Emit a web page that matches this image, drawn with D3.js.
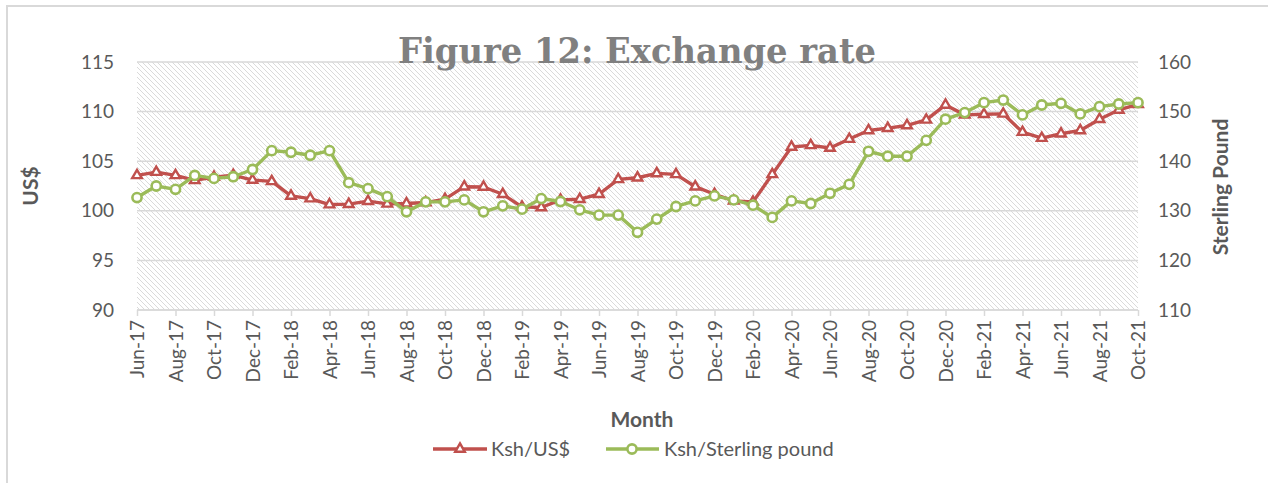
<!DOCTYPE html>
<html><head><meta charset="utf-8">
<script src="https://cdn.jsdelivr.net/npm/d3@7"></script>
<style>body{margin:0;background:#fff}svg{display:block}</style>
</head><body><svg id="c" width="1268" height="483"></svg>
<script>
const months = ["Jun-17","Jul-17","Aug-17","Sep-17","Oct-17","Nov-17","Dec-17",
"Jan-18","Feb-18","Mar-18","Apr-18","May-18","Jun-18","Jul-18","Aug-18","Sep-18","Oct-18","Nov-18","Dec-18",
"Jan-19","Feb-19","Mar-19","Apr-19","May-19","Jun-19","Jul-19","Aug-19","Sep-19","Oct-19","Nov-19","Dec-19",
"Jan-20","Feb-20","Mar-20","Apr-20","May-20","Jun-20","Jul-20","Aug-20","Sep-20","Oct-20","Nov-20","Dec-20",
"Jan-21","Feb-21","Mar-21","Apr-21","May-21","Jun-21","Jul-21","Aug-21","Sep-21","Oct-21"];
const kshUsd = [103.57,103.9,103.57,103.07,103.4,103.6,103.1,
102.97,101.5,101.23,100.63,100.67,100.97,100.7,100.73,100.83,101.17,102.43,102.4,
101.67,100.4,100.33,101.1,101.17,101.67,103.17,103.33,103.77,103.67,102.43,101.67,
101.0,100.9,103.67,106.43,106.6,106.33,107.23,108.1,108.33,108.6,109.17,110.67,
109.67,109.73,109.77,107.93,107.33,107.77,108.1,109.23,110.17,110.73];
const kshGbp = [132.67,135.0,134.33,137.13,136.53,136.87,138.33,
142.13,141.8,141.2,142.13,135.67,134.47,132.85,129.8,131.8,131.8,132.2,129.8,
131.0,130.33,132.47,131.87,130.2,129.13,129.13,125.67,128.33,130.87,132.0,133.0,
132.2,131.13,128.67,132.0,131.47,133.53,135.33,142.0,141.0,141.0,144.2,148.47,
149.8,151.8,152.33,149.33,151.33,151.67,149.53,151.0,151.53,151.8];
const leftTicks = [90,95,100,105,110,115];
const rightTicks = [110,120,130,140,150,160];
const tickLabels = months.filter((m,i)=>i%2===0);
const seriesNames = ["Ksh/US$","Ksh/Sterling pound"];
const titleText = "Figure 12: Exchange rate";

const svg = d3.select("#c");
const L=137, R=1138, T=62, B=310;
const red="#c0504d", green="#9bbb59", txt="#595959", grid="#d9d9d9";
const font="Lato, 'Open Sans', sans-serif";

// outer border
svg.append("rect").attr("x",7).attr("y",6).attr("width",1262).attr("height",490)
  .attr("fill","none").attr("stroke","#d9d9d9").attr("stroke-width",2);

const defs = svg.append("defs");
const pat = defs.append("pattern").attr("id","hatch").attr("patternUnits","userSpaceOnUse")
  .attr("width",5).attr("height",5);
pat.append("rect").attr("width",5).attr("height",5).attr("fill","#fff");
pat.append("path").attr("d","M-1,-1 L6,6 M-1,4 L1,6 M4,-1 L6,1").attr("stroke","#dadada").attr("stroke-width",1);

const x = d3.scalePoint().domain(months).range([L,R]);
const yL = d3.scaleLinear().domain([90,115]).range([B,T]);
const yR = d3.scaleLinear().domain([110,160]).range([B,T]);

svg.append("rect").attr("x",L).attr("y",T).attr("width",R-L).attr("height",B-T).attr("fill","url(#hatch)");

// gridlines
svg.append("g").selectAll("line").data(leftTicks).join("line")
  .attr("x1",L).attr("x2",R).attr("y1",d=>yL(d)).attr("y2",d=>yL(d))
  .attr("stroke",grid).attr("stroke-width",1.5);

// left axis
const gl = svg.append("g").attr("transform",`translate(${L},0)`)
  .call(d3.axisLeft(yL).tickValues(leftTicks).tickSize(0).tickPadding(23));
gl.select(".domain").remove();
gl.selectAll("text").attr("fill",txt).style("font-family",font).style("font-size","19px");

// right axis
const gr = svg.append("g").attr("transform",`translate(${R},0)`)
  .call(d3.axisRight(yR).tickValues(rightTicks).tickSize(0).tickPadding(20));
gr.select(".domain").remove();
gr.selectAll("text").attr("fill",txt).style("font-family",font).style("font-size","19px");

// bottom axis
const gb = svg.append("g").attr("transform",`translate(0,${B})`)
  .call(d3.axisBottom(x).tickValues(tickLabels).tickSize(6).tickSizeOuter(0).tickPadding(6));
gb.select(".domain").attr("stroke",grid).attr("stroke-width",1.5).attr("d",`M${L},0H${R}`);
gb.selectAll(".tick line").attr("stroke",grid).attr("stroke-width",1.5);
gb.selectAll("text").attr("fill",txt).style("font-family",font).style("font-size","19px")
  .attr("transform","rotate(-90)").attr("text-anchor","end").attr("dy","0.35em").attr("x",-10).attr("y",0);

// axis titles
svg.append("text").attr("transform","translate(38,186) rotate(-90)").attr("text-anchor","middle")
  .attr("fill",txt).style("font-family",font).style("font-weight","bold").style("font-size","21px").text("US$");
svg.append("text").attr("transform","translate(1228,187) rotate(-90)").attr("text-anchor","middle")
  .attr("fill",txt).style("font-family",font).style("font-weight","bold").style("font-size","21px").text("Sterling Pound");
svg.append("text").attr("x",642).attr("y",427).attr("text-anchor","middle")
  .attr("fill",txt).style("font-family",font).style("font-weight","bold").style("font-size","21px").text("Month");

// lines
const lineL = d3.line().x((d,i)=>x(months[i])).y(d=>yL(d));
const lineR = d3.line().x((d,i)=>x(months[i])).y(d=>yR(d));
svg.append("path").datum(kshUsd).attr("d",lineL).attr("fill","none").attr("stroke",red).attr("stroke-width",3.4).attr("stroke-linejoin","round");
const tri = d3.symbol().type(d3.symbolTriangle).size(40);
svg.append("g").selectAll("path").data(kshUsd).join("path")
  .attr("transform",(d,i)=>`translate(${x(months[i])},${yL(d)})`).attr("d",tri)
  .attr("fill","#fff").attr("stroke",red).attr("stroke-width",2.4);

svg.append("path").datum(kshGbp).attr("d",lineR).attr("fill","none").attr("stroke",green).attr("stroke-width",3.4).attr("stroke-linejoin","round");
svg.append("g").selectAll("circle").data(kshGbp).join("circle")
  .attr("cx",(d,i)=>x(months[i])).attr("cy",d=>yR(d)).attr("r",4.6)
  .attr("fill","#fff").attr("stroke",green).attr("stroke-width",2.6);

// title
svg.append("text").attr("x",637).attr("y",63).attr("text-anchor","middle")
  .attr("fill","#808080").style("font-family","'DejaVu Serif', serif").style("font-weight","bold")
  .style("font-size","36px").attr("textLength",478).attr("lengthAdjust","spacingAndGlyphs").text(titleText);

// legend
const lg = svg.append("g");
lg.append("line").attr("x1",433).attr("x2",487).attr("y1",449).attr("y2",449).attr("stroke",red).attr("stroke-width",3.4);
lg.append("path").attr("transform","translate(460,449)").attr("d",tri).attr("fill","#fff").attr("stroke",red).attr("stroke-width",2.4);
lg.append("text").attr("x",491).attr("y",456).attr("fill",txt).style("font-family",font).style("font-size","20px").text(seriesNames[0]);
lg.append("line").attr("x1",606).attr("x2",659).attr("y1",449).attr("y2",449).attr("stroke",green).attr("stroke-width",3.4);
lg.append("circle").attr("cx",632).attr("cy",449).attr("r",4.6).attr("fill","#fff").attr("stroke",green).attr("stroke-width",2.6);
lg.append("text").attr("x",664).attr("y",456).attr("fill",txt).style("font-family",font).style("font-size","20px").text(seriesNames[1]);
</script></body></html>
